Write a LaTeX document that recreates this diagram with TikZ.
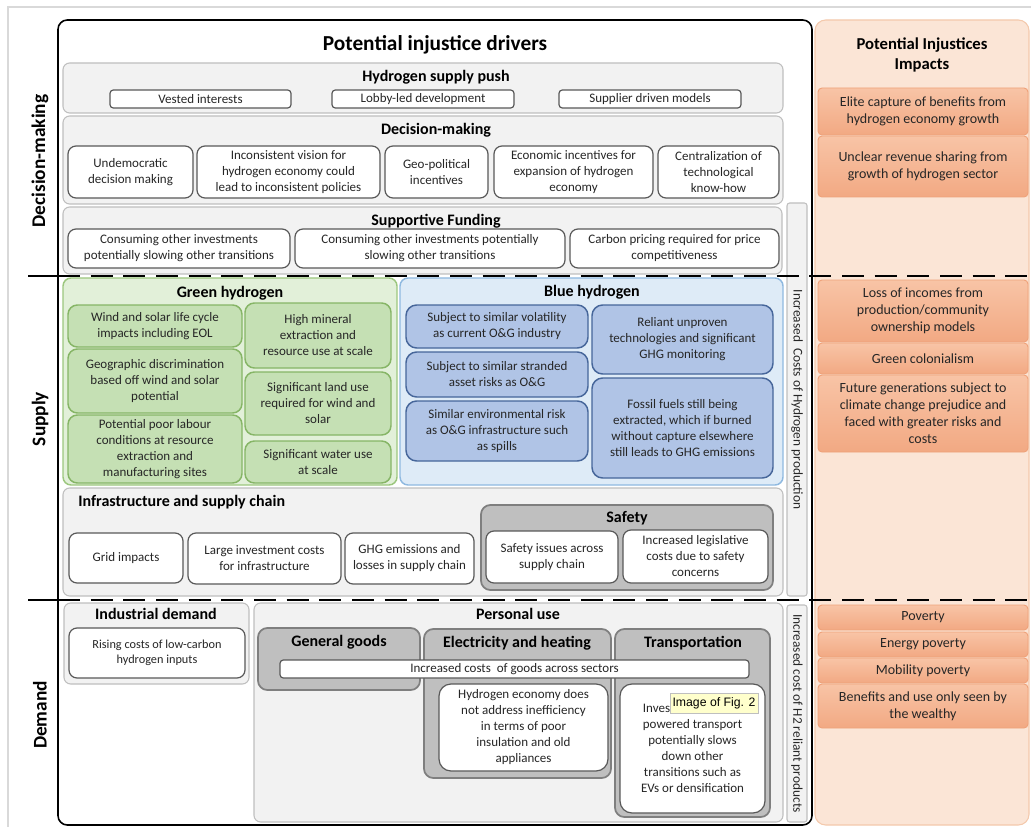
\documentclass[tikz,border=0pt]{standalone}
\usepackage{fontspec}
\setmainfont{Carlito}
\newfontfamily\tipfont{Liberation Sans}
\definecolor{secf}{HTML}{F2F2F2}
\definecolor{secd}{HTML}{BFBFBF}
\definecolor{dsecf}{HTML}{BFBFBF}
\definecolor{dsecd}{HTML}{7F7F7F}
\definecolor{wd}{HTML}{595959}
\definecolor{txt}{HTML}{262626}
\definecolor{gsecf}{HTML}{E2F0D9}
\definecolor{gsecd}{HTML}{9CC77E}
\definecolor{gboxf}{HTML}{C5E0B4}
\definecolor{gboxd}{HTML}{86B566}
\definecolor{bsecf}{HTML}{DEEBF7}
\definecolor{bsecd}{HTML}{8FB9E0}
\definecolor{bboxf}{HTML}{B0C4E6}
\definecolor{bboxd}{HTML}{46669A}
\definecolor{otop}{HTML}{F8C4A6}
\definecolor{obot}{HTML}{F2A983}
\definecolor{oboxd}{HTML}{EFA27A}
\definecolor{panf}{HTML}{FBE5D6}
\definecolor{pand}{HTML}{F4C9AC}
\definecolor{framec}{HTML}{D9D9D9}
\definecolor{tipf}{HTML}{FFFFCC}
\newcommand\fitem{\fontsize{9.75}{12}\selectfont}
\newcommand\fsmall{\fontsize{9.2}{11.5}\selectfont}
\newcommand\fsec{\fontsize{12}{14}\selectfont\bfseries}
\newcommand\fimp{\fontsize{10.5}{12.8}\selectfont}
\newcommand\mybox[7]{\node[#1, minimum width={(#5-(#3))*0.75pt}, minimum height={(#6-(#4))*0.75pt}] (#2) at ({(#3+#5)/2},{(#4+#6)/2}) {#7};}
\begin{document}
\begin{tikzpicture}[x=0.75pt,y=-0.75pt,
  every node/.style={inner sep=1pt, outer sep=0pt},
  sec/.style={draw=secd, fill=secf, line width=0.8pt, rounded corners=5pt},
  dsec/.style={draw=dsecd, fill=dsecf, line width=1.3pt, rounded corners=7pt},
  wbox/.style={draw=wd, fill=white, line width=0.9pt, rounded corners=6pt, align=center, font=\fitem, text=txt},
  wsmall/.style={wbox, rounded corners=2.5pt},
  gsec/.style={draw=gsecd, fill=gsecf, line width=1.1pt, rounded corners=6pt},
  gbox/.style={draw=gboxd, fill=gboxf, line width=1.1pt, rounded corners=7pt, align=center, font=\fitem, text=txt},
  bsec/.style={draw=bsecd, fill=bsecf, line width=1.1pt, rounded corners=6pt},
  bbox/.style={draw=bboxd, fill=bboxf, line width=1.1pt, rounded corners=8pt, align=center, font=\fitem, text=txt},
  obox/.style={draw=oboxd, top color=otop, bottom color=obot, line width=0.7pt, rounded corners=3pt, align=center, font=\fimp, text=txt},
  strip/.style={draw=secd, fill=secf, line width=0.8pt, rounded corners=2pt},
  sectitle/.style={font=\fsec, text=black, align=center},
  sidelabel/.style={font=\fontsize{14.5}{16}\selectfont\bfseries, rotate=90},
  sepline/.style={line width=2.2pt, dash pattern=on 16.5pt off 8pt},
]
\useasboundingbox (0,0) rectangle (1031,827);
\fill[white] (0,0) rectangle (1031,827);
% screenshot frame
\draw[framec, line width=0.8pt] (8,827) -- (8,7) -- (1031,7);
% main frame
\mybox{draw=black, fill=white, line width=1.2pt, rounded corners=7pt}{mainframe}{58}{20}{812}{825}{}
\node[font=\fontsize{16}{18}\selectfont\bfseries] (maintitle) at (435,45) {Potential injustice drivers};
% right panel
\mybox{draw=pand, fill=panf, line width=0.8pt, rounded corners=8pt}{panel}{815}{20}{1029}{825}{}
\node[font=\fontsize{12.5}{15}\selectfont\bfseries, align=center] (paneltitle) at (922,55) {Potential Injustices\\Impacts};
% side labels
\node[sidelabel] (lbldm) at (40,161) {Decision-making};
\node[sidelabel] (lblsup) at (40,419) {Supply};
\node[sidelabel] (lbldem) at (40,715) {Demand};

% Hydrogen supply push
\mybox{sec}{hsp}{63}{63}{783}{113}{}
\node[sectitle] (hsptitle) at (436,77) {Hydrogen supply push};
\mybox{wsmall}{hsp1}{110}{90}{291}{108}{Vested interests}
\mybox{wsmall}{hsp2}{332}{90}{514}{108}{Lobby-led development}
\mybox{wsmall}{hsp3}{559}{90}{741}{108}{Supplier driven models}

% Decision-making
\mybox{sec}{dm}{63}{116}{783}{204}{}
\node[sectitle] (dmtitle) at (436,130) {Decision-making};
\mybox{wbox}{dm1}{68}{146}{193}{198}{Undemocratic\\decision making}
\mybox{wbox}{dm2}{197}{146}{380}{198}{Inconsistent vision for\\hydrogen economy could\\lead to inconsistent policies}
\mybox{wbox}{dm3}{385}{146}{488}{198}{Geo-political\\incentives}
\mybox{wbox}{dm4}{494}{146}{653}{198}{Economic incentives for\\expansion of hydrogen\\economy}
\mybox{wbox}{dm5}{658}{146}{779}{198}{Centralization of\\technological\\know-how}

% Supportive funding
\mybox{sec}{sf}{63}{207}{782}{274}{}
\node[sectitle] (sftitle) at (436,221) {Supportive Funding};
\mybox{wbox}{sf1}{68}{229}{290}{268}{Consuming other investments\\potentially slowing other transitions}
\mybox{wbox}{sf2}{295}{229}{565}{268}{Consuming other investments potentially\\slowing other transitions}
\mybox{wbox}{sf3}{570}{229}{779}{268}{Carbon pricing required for price\\competitiveness}

% strips
\mybox{strip}{strip1}{787}{203}{807}{596}{}
\node[rotate=-90, font=\fontsize{10}{12}\selectfont, text=txt] (strip1lbl) at (strip1.center) {Increased\ \ Costs of Hydrogen production};
\mybox{strip}{strip2}{787}{605}{807}{822}{}
\node[rotate=-90, font=\fontsize{10}{12}\selectfont, text=txt] (strip2lbl) at (strip2.center) {Increased cost of H2 reliant products};

% Green hydrogen
\mybox{gsec}{gh}{63}{278}{397}{485}{}
\node[sectitle] (ghtitle) at (230,293) {Green hydrogen};
\mybox{gbox}{g1}{68}{305}{242}{347}{Wind and solar life cycle\\impacts including EOL}
\mybox{gbox}{g2}{68}{349}{242}{413}{Geographic discrimination\\based off wind and solar\\potential}
\mybox{gbox}{g3}{68}{415}{242}{483}{Potential poor labour\\conditions at resource\\extraction and\\manufacturing sites}
\mybox{gbox}{g4}{245}{303}{391}{368}{High mineral\\extraction and\\resource use at scale}
\mybox{gbox}{g5}{245}{372}{391}{435}{Significant land use\\required for wind and\\solar}
\mybox{gbox}{g6}{245}{441}{391}{483}{Significant water use\\at scale}

% Blue hydrogen
\mybox{bsec}{bh}{400}{278}{783}{485}{}
\node[sectitle] (bhtitle) at (592,292) {Blue hydrogen};
\mybox{bbox}{b1}{406}{305}{588}{348}{Subject to similar volatility\\as current O\&G industry}
\mybox{bbox}{b2}{406}{352}{588}{397}{Subject to similar stranded\\asset risks as O\&G}
\mybox{bbox}{b3}{406}{401}{588}{461}{Similar environmental risk\\as O\&G infrastructure such\\as spills}
\mybox{bbox}{b4}{592}{305}{773}{374}{Reliant unproven\\technologies and significant\\GHG monitoring}
\mybox{bbox}{b5}{592}{378}{773}{478}{Fossil fuels still being\\extracted, which if burned\\without capture elsewhere\\still leads to GHG emissions}

% Infrastructure and supply chain
\mybox{sec}{isc}{63}{488}{783}{596}{}
\node[sectitle, anchor=west] (isctitle) at (77,502) {Infrastructure and supply chain};
\mybox{wbox}{i1}{69}{533}{183}{583}{Grid impacts}
\mybox{wbox}{i2}{188}{533}{341}{584}{Large investment costs\\for infrastructure}
\mybox{wbox}{i3}{345}{533}{474}{584}{GHG emissions and\\losses in supply chain}
\mybox{dsec}{saf}{481}{505}{773}{590}{}
\node[sectitle] (saftitle) at (627,518) {Safety};
\mybox{wbox}{s1}{486}{531}{618}{583}{Safety issues across\\supply chain}
\mybox{wbox}{s2}{623}{530}{768}{583}{Increased legislative\\costs due to safety\\concerns}

% Demand
\mybox{sec}{ind}{64}{603}{249}{684}{}
\node[sectitle] (indtitle) at (156,614) {Industrial demand};
\mybox{wbox, font=\fsmall}{d1}{69}{628}{245}{678}{Rising costs of low-carbon\\hydrogen inputs}
\mybox{sec}{pu}{254}{603}{783}{822}{}
\node[sectitle] (putitle) at (518,614) {Personal use};
\mybox{dsec}{gg}{258}{628}{420}{690}{}
\node[sectitle, anchor=north] (ggtitle) at (339,634) {General goods};
\mybox{dsec}{eh}{424}{629}{611}{778}{}
\node[sectitle, anchor=north] (ehtitle) at (517,635) {Electricity and heating};
\mybox{dsec}{tr}{615}{629}{770}{817}{}
\node[sectitle, anchor=north] (trtitle) at (693,635) {Transportation};
\mybox{wsmall}{bar}{280}{660}{749}{678}{Increased costs\ \ of goods across sectors}
\mybox{wbox, rounded corners=9pt}{e1}{439}{684}{608}{771}{Hydrogen economy does\\not address inefficiency\\in terms of poor\\insulation and old\\appliances}
\mybox{wbox, rounded corners=9pt}{t1}{620}{684}{765}{813}{Inves\makebox[54pt]{}\\powered transport\\potentially slows\\down other\\transitions such as\\EVs or densification}
\mybox{draw=secd, fill=tipf, line width=0.5pt, font=\tipfont\fontsize{9.2}{11}\selectfont, text=black}{tip}{670}{693}{758}{713}{Image of Fig. 2}

% Impacts
\mybox{obox}{o1}{818}{88}{1028}{135}{Elite capture of benefits from\\hydrogen economy growth}
\mybox{obox}{o2}{818}{136}{1028}{197}{Unclear revenue sharing from\\growth of hydrogen sector}
\mybox{obox}{o3}{818}{280}{1028}{342}{Loss of incomes from\\production/community\\ownership models}
\mybox{obox}{o4}{818}{343}{1028}{374}{Green colonialism}
\mybox{obox}{o5}{818}{375}{1028}{452}{Future generations subject to\\climate change prejudice and\\faced with greater risks and\\costs}
\mybox{obox}{o6}{818}{605}{1028}{630}{Poverty}
\mybox{obox}{o7}{818}{632}{1028}{657}{Energy poverty}
\mybox{obox}{o8}{818}{658}{1028}{683}{Mobility poverty}
\mybox{obox}{o9}{818}{684}{1028}{728}{Benefits and use only seen by\\the wealthy}

% separators
\coordinate (sepAa) at (28,276);
\coordinate (sepAb) at (58,276);
\coordinate (sepAc) at (1031,276);
\coordinate (sepBa) at (28,600);
\coordinate (sepBb) at (58,600);
\coordinate (sepBc) at (1031,600);
\draw[line width=2.2pt] (sepAa) -- (sepAb);
\draw[line width=2.2pt] (sepBa) -- (sepBb);
\draw[sepline] (sepAb) -- (sepAc);
\draw[sepline] (sepBb) -- (sepBc);
\end{tikzpicture}
\end{document}
